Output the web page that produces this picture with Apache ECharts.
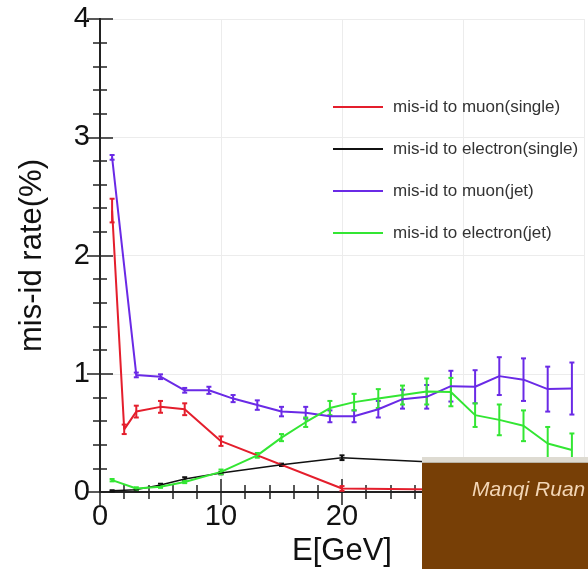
<!DOCTYPE html>
<html>
<head>
<meta charset="utf-8">
<script src="https://cdn.jsdelivr.net/npm/echarts@6/dist/echarts.min.js"></script>
<style>
html,body{margin:0;padding:0;background:#fff;}
#c{width:588px;height:569px;}
</style>
</head>
<body>
<div id="c"></div>
<script>
// ---- data ----
var seriesNames = ['mis-id to muon(single)', 'mis-id to electron(single)', 'mis-id to muon(jet)', 'mis-id to electron(jet)'];

var muonSingleE   = [1, 2, 3, 5, 7, 10, 20, 30, 40];
var muonSingleV   = [2.38, 0.53, 0.68, 0.72, 0.70, 0.43, 0.03, 0.02, 0.02];
var muonSingleErr = [0.10, 0.04, 0.05, 0.05, 0.05, 0.04, 0.02, 0.01, 0.01];

var elecSingleE   = [1, 3, 5, 7, 10, 15, 20, 30, 40];
var elecSingleV   = [0.01, 0.02, 0.06, 0.11, 0.16, 0.23, 0.29, 0.24, 0.20];
var elecSingleErr = [0.005, 0.005, 0.01, 0.015, 0.01, 0.01, 0.02, 0.01, 0.01];

var muonJetE   = [1, 3, 5, 7, 9, 11, 13, 15, 17, 19, 21, 23, 25, 27, 29, 31, 33, 35, 37, 39];
var muonJetV   = [2.83, 0.99, 0.975, 0.86, 0.86, 0.79, 0.735, 0.68, 0.67, 0.64, 0.64, 0.70, 0.785, 0.805, 0.895, 0.89, 0.98, 0.95, 0.87, 0.875];
var muonJetErr = [0.02, 0.02, 0.02, 0.02, 0.03, 0.03, 0.04, 0.04, 0.05, 0.05, 0.05, 0.07, 0.08, 0.10, 0.13, 0.14, 0.16, 0.18, 0.19, 0.22];

var elecJetE   = [1, 3, 5, 7, 10, 13, 15, 17, 19, 21, 23, 25, 27, 29, 31, 33, 35, 37, 39];
var elecJetV   = [0.10, 0.03, 0.045, 0.085, 0.17, 0.31, 0.46, 0.59, 0.71, 0.76, 0.79, 0.82, 0.85, 0.845, 0.65, 0.61, 0.56, 0.41, 0.355];
var elecJetErr = [0.01, 0.01, 0.01, 0.01, 0.02, 0.02, 0.03, 0.04, 0.06, 0.07, 0.08, 0.08, 0.11, 0.12, 0.10, 0.13, 0.13, 0.14, 0.14];

var xTicks = {min: 0, max: 40, interval: 10};
var yTicks = {min: 0, max: 4, interval: 1};

var colors = ['#e41e2c', '#111111', '#6a2ae6', '#33e633'];

// ---- build ----
function pairs(xs, ys) { return xs.map(function (x, i) { return [x, ys[i]]; }); }
function triples(xs, ys, es) { return xs.map(function (x, i) { return [x, ys[i], es[i]]; }); }

var sets = [
  [muonSingleE, muonSingleV, muonSingleErr],
  [elecSingleE, elecSingleV, elecSingleErr],
  [muonJetE, muonJetV, muonJetErr],
  [elecJetE, elecJetV, elecJetErr]
];

function errRender(color, w) {
  return function (params, api) {
    var x = api.value(0), y = api.value(1), e = api.value(2);
    var lo = api.coord([x, y - e]);
    var hi = api.coord([x, y + e]);
    var c = 2.5;
    var st = {stroke: color, lineWidth: w};
    return {
      type: 'group',
      children: [
        {type: 'line', shape: {x1: lo[0], y1: lo[1], x2: hi[0], y2: hi[1]}, style: st},
        {type: 'line', shape: {x1: lo[0] - c, y1: lo[1], x2: lo[0] + c, y2: lo[1]}, style: st},
        {type: 'line', shape: {x1: hi[0] - c, y1: hi[1], x2: hi[0] + c, y2: hi[1]}, style: st}
      ]
    };
  };
}

var series = [];
sets.forEach(function (s, i) {
  var lw = i === 1 ? 1.5 : 2;
  series.push({
    name: seriesNames[i],
    type: 'line',
    data: pairs(s[0], s[1]),
    showSymbol: false,
    symbol: 'none',
    color: colors[i],
    lineStyle: {color: colors[i], width: lw},
    z: 3,
    animation: false
  });
  series.push({
    type: 'custom',
    data: triples(s[0], s[1], s[2]),
    encode: {x: 0, y: 1},
    renderItem: errRender(colors[i], 2),
    z: 3,
    silent: true,
    animation: false
  });
});

var axisCommon = {
  type: 'value',
  axisLine: {show: true, lineStyle: {color: '#222', width: 2}},
  axisTick: {show: true, inside: true, length: 13, lineStyle: {color: '#222', width: 1.5}},
  minorTick: {show: true, splitNumber: 5, length: 7, lineStyle: {color: '#222', width: 1.5}},
  splitLine: {show: false}
};

function ax(extra, base) {
  var o = JSON.parse(JSON.stringify(axisCommon));
  for (var k in base) o[k] = base[k];
  for (var k2 in extra) o[k2] = extra[k2];
  return o;
}

var labelStyle = {fontSize: 29, color: '#111', fontFamily: 'Liberation Sans, Arial, sans-serif'};

var option = {
  backgroundColor: '#fff',
  animation: false,
  grid: {left: 100, right: 4, top: 19, bottom: 77, containLabel: false, outerBoundsMode: 'none'},
  legend: {
    data: seriesNames,
    orient: 'vertical',
    left: 333,
    top: 97,
    padding: 0,
    itemWidth: 50,
    itemHeight: 2,
    itemGap: 22,
    icon: 'rect',
    textStyle: {fontSize: 17, color: '#333', lineHeight: 20, padding: [0, 0, 0, 5], fontFamily: 'Liberation Sans, Arial, sans-serif'}
  },
  xAxis: [
    ax({
      position: 'bottom',
      name: 'E[GeV]',
      nameLocation: 'middle',
      nameGap: 43,
      nameTextStyle: {fontSize: 31, color: '#111', fontFamily: 'Liberation Sans, Arial, sans-serif'},
      axisLabel: Object.assign({margin: 10}, labelStyle),
      splitLine: {show: true, lineStyle: {color: '#ececec', width: 1}}
    }, xTicks),
    ax({position: 'top', axisLabel: {show: false}}, xTicks)
  ],
  yAxis: [
    ax({
      position: 'left',
      name: 'mis-id rate(%)',
      nameLocation: 'middle',
      nameGap: 52,
      nameTextStyle: {fontSize: 31, color: '#111', fontFamily: 'Liberation Sans, Arial, sans-serif'},
      axisLabel: Object.assign({margin: 10}, labelStyle),
      splitLine: {show: true, lineStyle: {color: '#ececec', width: 1}}
    }, yTicks),
    ax({position: 'right', axisLabel: {show: false}}, yTicks)
  ],
  series: series,
  graphic: [
    {type: 'rect', z: 100, shape: {x: 422, y: 457, width: 166, height: 112}, style: {fill: '#dedbd2'}},
    {type: 'rect', z: 101, shape: {x: 422, y: 462, width: 166, height: 1}, style: {fill: '#b9b2a4'}},
    {type: 'rect', z: 101, shape: {x: 422, y: 463, width: 166, height: 106}, style: {fill: '#773f06'}},
    {type: 'text', z: 102, x: 472, y: 490, style: {text: 'Manqi Ruan', fill: '#f3d6b6', font: 'italic 21px "Liberation Sans", Arial, sans-serif', verticalAlign: 'middle', align: 'left'}}
  ]
};

var chart = echarts.init(document.getElementById('c'), null, {renderer: 'canvas'});
chart.setOption(option);
</script>
</body>
</html>
